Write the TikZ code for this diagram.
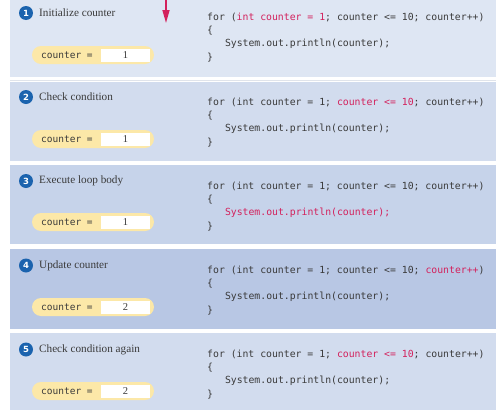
\documentclass[tikz,border=0pt]{standalone}
\usepackage{fontspec}
\setmainfont{Liberation Serif}
\newfontfamily\codefont{DejaVu Sans Mono}
\newfontfamily\numfont{DejaVu Sans}
\usetikzlibrary{arrows.meta}
\definecolor{pA}{HTML}{DEE6F3}
\definecolor{pB}{HTML}{D2DCEE}
\definecolor{pC}{HTML}{C6D3EA}
\definecolor{pD}{HTML}{B8C7E4}
\definecolor{pE}{HTML}{D2DCEE}
\definecolor{pillc}{HTML}{FCE8A8}
\definecolor{stepblue}{HTML}{1B63AE}
\definecolor{hot}{HTML}{D3215C}
\definecolor{codegray}{HTML}{3A3A3A}
\definecolor{sepc}{HTML}{E0E4EB}
\newcommand{\hl}[1]{\textcolor{hot}{#1}}
\tikzset{
  panelbox/.style={fill=#1, draw=none},
  stepdot/.style={circle, fill=stepblue, minimum size=14pt, inner sep=0pt, text=white, font=\numfont\bfseries\fontsize{8.5}{8.5}\selectfont},
  steptitle/.style={anchor=west, inner sep=0pt, text=codegray, font=\fontsize{11.2}{13}\selectfont},
  codeline/.style={anchor=base west, inner sep=0pt, text=codegray, font=\codefont\fontsize{9.8}{12}\selectfont},
  pillbox/.style={rounded corners=9pt, fill=pillc, draw=none, minimum width=122pt, minimum height=18pt, inner sep=0pt},
  valbox/.style={fill=white, draw=none, minimum width=49pt, minimum height=13.5pt, inner sep=0pt, font=\fontsize{10.5}{12}\selectfont, text=codegray},
  pilltext/.style={anchor=base west, inner sep=0pt, text=codegray, font=\codefont\fontsize{9.5}{12}\selectfont},
  seprule/.style={draw=sepc, line width=0.6pt},
  flowarrow/.style={draw=hot, line width=1.6pt, -{Triangle[width=7pt,length=13pt]}}
}
\begin{document}
\begin{tikzpicture}[x=1pt,y=-1pt]
\useasboundingbox (0,0) rectangle (496,410);
% panels
\node[panelbox=pA, minimum width=486pt, minimum height=80pt, inner sep=0pt, anchor=north west] (p1) at (10,-3) {};
\node[panelbox=pB, minimum width=486pt, minimum height=79pt, inner sep=0pt, anchor=north west] (p2) at (10,82) {};
\node[panelbox=pC, minimum width=486pt, minimum height=79pt, inner sep=0pt, anchor=north west] (p3) at (10,165) {};
\node[panelbox=pD, minimum width=486pt, minimum height=80pt, inner sep=0pt, anchor=north west] (p4) at (10,249) {};
\node[panelbox=pE, minimum width=486pt, minimum height=77pt, inner sep=0pt, anchor=north west] (p5) at (10,333) {};
% separator
\coordinate (s1a) at (10,79.8); \coordinate (s1b) at (496,79.8);
\draw[seprule] (s1a) -- (s1b);
% arrow
\coordinate (arrtop) at (166,0);
\coordinate (arrtip) at (166,23);
\draw[flowarrow] (arrtop) -- (arrtip);

% Panel 1
\node[stepdot] (c1) at (26,13) {1};
\node[steptitle] (t1) at (39,13) {Initialize counter};
\node[pillbox] (pill1) at (93,55) {};
\node[valbox] (val1) at (125.5,55.5) {1};
\node[pilltext] (pt1) at (41,58.6) {counter =};
\node[codeline] (a1) at (207,20.5) {for (\hl{int counter = 1}; counter <= 10; counter++)};
\node[codeline] (b1) at (207,33.5) {\{};
\node[codeline] (d1) at (224.8,46.5) {System.out.println(counter);};
\node[codeline] (e1) at (207,60.5) {\}};

% Panel 2
\node[stepdot] (c2) at (26,97) {2};
\node[steptitle] (t2) at (39,97) {Check condition};
\node[pillbox] (pill2) at (93,139) {};
\node[valbox] (val2) at (125.5,139.5) {1};
\node[pilltext] (pt2) at (41,142.6) {counter =};
\node[codeline] (a2) at (207,105) {for (int counter = 1; \hl{counter <= 10}; counter++)};
\node[codeline] (b2) at (207,118) {\{};
\node[codeline] (d2) at (224.8,131) {System.out.println(counter);};
\node[codeline] (e2) at (207,145) {\}};

% Panel 3
\node[stepdot] (c3) at (26,181) {3};
\node[steptitle] (t3) at (39,181) {Execute loop body};
\node[pillbox] (pill3) at (93,222) {};
\node[valbox] (val3) at (125.5,222.5) {1};
\node[pilltext] (pt3) at (41,225.6) {counter =};
\node[codeline] (a3) at (207,189) {for (int counter = 1; counter <= 10; counter++)};
\node[codeline] (b3) at (207,202) {\{};
\node[codeline] (d3) at (224.8,215) {\hl{System.out.println(counter);}};
\node[codeline] (e3) at (207,229) {\}};

% Panel 4
\node[stepdot] (c4) at (26,265.5) {4};
\node[steptitle] (t4) at (39,265.5) {Update counter};
\node[pillbox] (pill4) at (93,307) {};
\node[valbox] (val4) at (125.5,307.5) {2};
\node[pilltext] (pt4) at (41,310.6) {counter =};
\node[codeline] (a4) at (207,273) {for (int counter = 1; counter <= 10; \hl{counter++})};
\node[codeline] (b4) at (207,286) {\{};
\node[codeline] (d4) at (224.8,299) {System.out.println(counter);};
\node[codeline] (e4) at (207,313) {\}};

% Panel 5
\node[stepdot] (c5) at (26,349.5) {5};
\node[steptitle] (t5) at (39,349.5) {Check condition again};
\node[pillbox] (pill5) at (93,391) {};
\node[valbox] (val5) at (125.5,391.5) {2};
\node[pilltext] (pt5) at (41,394.6) {counter =};
\node[codeline] (a5) at (207,357) {for (int counter = 1; \hl{counter <= 10}; counter++)};
\node[codeline] (b5) at (207,370) {\{};
\node[codeline] (d5) at (224.8,383) {System.out.println(counter);};
\node[codeline] (e5) at (207,397) {\}};
\end{tikzpicture}
\end{document}
